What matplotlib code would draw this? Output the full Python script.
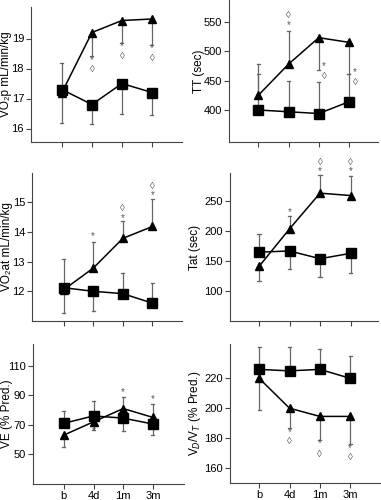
import matplotlib
matplotlib.use("Agg")
import matplotlib.pyplot as plt

plt.rcParams['font.family'] = ['Liberation Sans', 'DejaVu Sans']
plt.rcParams['font.size'] = 9

x_labels = ["b", "4d", "1m", "3m"]
x = [0, 1, 2, 3]

# Panel data: squares (control), triangles (intervention)
vo2p_sq = [17.3, 16.8, 17.5, 17.2]
vo2p_tr = [17.2, 19.2, 19.6, 19.65]
vo2p_sq_err = [18.2, 16.15, 16.48, 16.45]
vo2p_tr_err = [16.2, 18.43, 18.85, 18.8]

tt_sq = [400, 397, 394, 414]
tt_tr = [425, 478, 523, 515]
tt_sq_err = [462, 450, 447, 461]
tt_tr_err = [478, 535, 468, 462]

vo2at_sq = [12.12, 12.0, 11.92, 11.6]
vo2at_tr = [12.05, 12.78, 13.78, 14.18]
vo2at_sq_err = [11.28, 11.35, 12.62, 12.27]
vo2at_tr_err = [13.1, 13.65, 14.35, 15.1]

tat_sq = [165, 167, 154, 163]
tat_tr = [141, 204, 264, 260]
tat_sq_err = [196, 137, 123, 130]
tat_tr_err = [117, 225, 295, 292]

ve_sq = [71, 76, 74.5, 70.5]
ve_tr = [63, 72, 81, 75]
ve_sq_err = [79, 86, 65.5, 63]
ve_tr_err = [55, 66.5, 89, 84]

vdvt_sq = [226, 225, 226, 220]
vdvt_tr = [220, 200, 194.5, 194.5]
vdvt_sq_err = [241, 241, 239.5, 235]
vdvt_tr_err = [199, 187, 179, 176]

# annotations: (x, y, symbol)
vo2p_marks = [(1, 18.27, "*"), (1, 17.97, "◊"), (2, 18.74, "*"), (2, 18.43, "◊"),
              (3, 18.67, "*"), (3, 18.36, "◊")]
tt_marks = [(1, 562, "◊"), (1, 544, "*"), (2.18, 475, "*"), (2.18, 458, "◊"),
            (3.2, 465, "*"), (3.2, 448, "◊")]
vo2at_marks = [(1, 13.85, "*"), (2, 14.48, "*"), (2, 14.8, "◊"),
               (3, 15.23, "*"), (3, 15.55, "◊")]
tat_marks = [(1, 232, "*"), (2, 301, "*"), (2, 317, "◊"), (3, 301, "*"), (3, 317, "◊")]
ve_marks = [(1, 65.5, "*"), (2, 92.3, "*"), (3, 87.5, "*")]
vdvt_marks = [(1, 184.3, "*"), (1, 178.0, "◊"), (2, 176.5, "*"), (2, 169.4, "◊"),
              (3, 173.2, "*"), (3, 167.0, "◊")]

W, H = 381, 500
fig = plt.figure(figsize=(W / 100, H / 100), dpi=100)


def make_ax(left, right, top, bottom):
    return fig.add_axes([left / W, 1 - bottom / H, (right - left) / W, (bottom - top) / H])


panels = [
    dict(box=(31, 182, 7, 142), xlim=(-1.03, 4.0), ylim=(15.55, 20.05), yticks=[16, 17, 18, 19],
         sq=vo2p_sq, tr=vo2p_tr, sqe=vo2p_sq_err, tre=vo2p_tr_err, marks=vo2p_marks,
         ylabel="VO₂p mL/min/kg", lx=6.5, xl=False),
    dict(box=(229, 378, 0, 142), xlim=(-0.97, 3.96), ylim=(345.6, 587), yticks=[400, 450, 500, 550],
         sq=tt_sq, tr=tt_tr, sqe=tt_sq_err, tre=tt_tr_err, marks=tt_marks,
         ylabel="TT (sec)", lx=199, xl=False),
    dict(box=(32, 182, 173, 321), xlim=(-1.07, 4.0), ylim=(11.0, 15.98), yticks=[12, 13, 14, 15],
         sq=vo2at_sq, tr=vo2at_tr, sqe=vo2at_sq_err, tre=vo2at_tr_err, marks=vo2at_marks,
         ylabel="VO₂at mL/min/kg", lx=7.5, xl=False),
    dict(box=(230, 378, 173, 321), xlim=(-0.95, 3.9), ylim=(49.5, 297.8), yticks=[100, 150, 200, 250],
         sq=tat_sq, tr=tat_tr, sqe=tat_sq_err, tre=tat_tr_err, marks=tat_marks,
         ylabel="Tat (sec)", lx=195, xl=False),
    dict(box=(33, 184, 344, 484), xlim=(-1.04, 4.05), ylim=(29.8, 124.8), yticks=[50, 70, 90, 110],
         sq=ve_sq, tr=ve_tr, sqe=ve_sq_err, tre=ve_tr_err, marks=ve_marks,
         ylabel="VE (% Pred.)", lx=7, xl=True),
    dict(box=(230, 380, 344, 483), xlim=(-0.96, 3.98), ylim=(149.9, 243), yticks=[160, 180, 200, 220],
         sq=vdvt_sq, tr=vdvt_tr, sqe=vdvt_sq_err, tre=vdvt_tr_err, marks=vdvt_marks,
         ylabel="V$_D$/V$_T$ (% Pred.)", lx=195, xl=True),
]

ecol = "#666666"
for p in panels:
    ax = make_ax(*p["box"])
    ax.set_xlim(*p["xlim"])
    ax.set_ylim(*p["ylim"])
    for s in ["top", "right"]:
        ax.spines[s].set_visible(False)
    for s in ["left", "bottom"]:
        ax.spines[s].set_color("#444444")
        ax.spines[s].set_linewidth(0.8)
    # error bars (one-sided)
    for xs, ys, es in [(x, p["sq"], p["sqe"]), (x, p["tr"], p["tre"])]:
        for xi, yi, ei in zip(xs, ys, es):
            ax.plot([xi, xi], [yi, ei], color=ecol, lw=0.9, zorder=1)
            ax.plot([xi - 0.05, xi + 0.05], [ei, ei], color=ecol, lw=0.9, zorder=1)
    ax.plot(x, p["tr"], color="black", lw=1.1, marker="^", ms=6, zorder=3, clip_on=False)
    ax.plot(x, p["sq"], color="black", lw=1.1, marker="s", ms=6.5, zorder=3, clip_on=False)
    for mx, my, sym in p["marks"]:
        ax.text(mx, my, sym, ha="center", va="center", fontsize=7,
                color="#555555", clip_on=False)
    ax.set_xticks(x)
    if p["xl"]:
        ax.set_xticklabels(x_labels)
    else:
        ax.set_xticklabels([])
    ax.set_yticks(p["yticks"])
    ax.tick_params(axis="both", direction="out", length=3.5, width=0.8, color="#444444",
                   labelsize=8, pad=1.5)
    b = p["box"]
    fig.text(p["lx"] / W, 1 - (b[2] + b[3]) / 2 / H, p["ylabel"], rotation=90,
             ha="center", va="center", fontsize=8.5)

fig.savefig("out.png", dpi=100)
